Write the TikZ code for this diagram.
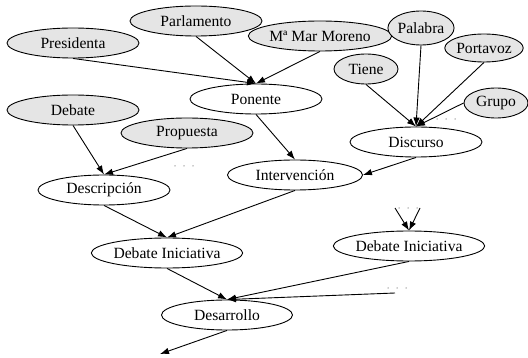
\documentclass[tikz,border=0pt]{standalone}
\usepackage{fontspec}
\setmainfont{Liberation Serif}
\usetikzlibrary{shapes.geometric,arrows.meta}

\begin{document}
\begin{tikzpicture}[x=1pt, y=-1pt,
    concept/.style={ellipse, draw, line width=0.9pt, inner sep=0pt,
        minimum width=132pt, minimum height=30pt,
        font=\fontsize{15.6}{18}\selectfont},
    given/.style={concept, fill=gray!20},
    link/.style={line width=0.9pt, -{Latex[length=9pt,width=6.5pt]}}]
    \useasboundingbox (0,0) rectangle (528,358);
    % Top row of given concepts
    \node[given] (pres) at (73,43) {Presidenta};
    \node[given] (parl) at (196,21) {Parlamento};
    \node[given, minimum width=135pt] (mar) at (320,36) {Mª Mar Moreno};
    \node[given, minimum width=64pt, minimum height=34pt] (pal) at (421,28) {Palabra};
    \node[given, minimum width=58pt, minimum height=28pt] (port) at (484,48) {Portavoz};
    \node[given, minimum width=64pt] (tiene) at (366,69) {Tiene};
    \node[given, minimum width=64pt] (grupo) at (496,103) {Grupo};
    \node[given] (deb) at (73,110) {Debate};
    \node[given] (prop) at (187,133) {Propuesta};
    % Derived concepts
    \node[concept] (pon) at (256,99) {Ponente};
    \node[concept] (disc) at (416,142) {Discurso};
    \node[concept, minimum width=135pt] (interv) at (295,175) {Intervención};
    \node[concept] (descr) at (104,190) {Descripción};
    \node[concept] (dini) at (167,253) {Debate Iniciativa};
    \node[concept, minimum width=133pt] (dinib) at (409,246) {Debate Iniciativa};
    \node[concept, minimum width=131pt] (desa) at (227,315) {Desarrollo};
    % Loose ends
    \coordinate (inA) at (395,208);
    \coordinate (inB) at (420,208);
    \coordinate (inC) at (395,293);
    \coordinate (outA) at (160,354);
    % Edges
    \foreach \src in {pres, parl, mar} {
        \draw[link] (\src.south) -- (pon.north);
    }
    \foreach \src in {tiene, pal, port} {
        \draw[link] (\src.south) -- (disc.north);
    }
    \draw[link] (grupo.west) -- (disc.north);
    \draw[link] (pon.south) -- (interv.north);
    \draw[link] (disc.south) -- (interv.east);
    \draw[link] (deb.south) -- (descr.north);
    \draw[link] (prop.south) -- (descr.north);
    \draw[link] (descr.south) -- (dini.north);
    \draw[link] (interv.south) -- (dini.north);
    \draw[link] (inA) -- (dinib.north);
    \draw[link] (inB) -- (dinib.north);
    \draw[link] (dini.south) -- (desa.north);
    \draw[link] (dinib.south) -- (desa.north);
    \draw[link] (inC) -- (desa.north);
    \draw[link] (desa.south) -- (outA);
    % Elided dots
    \foreach \x/\y in {175/166, 184/166, 193/166, 437/119, 446/119, 455/119,
                       399/208, 408/208, 417/208, 388/288, 397/288, 406/288} {
        \fill[gray!80] (\x,\y) circle (0.75pt);
    }
\end{tikzpicture}
\end{document}
